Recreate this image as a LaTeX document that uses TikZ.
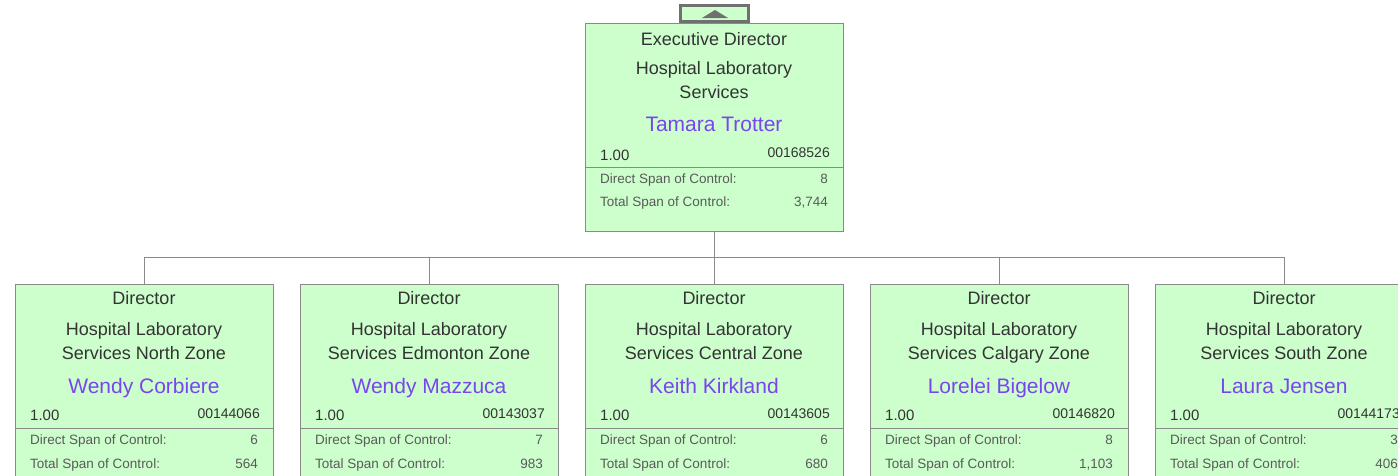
\documentclass[tikz,border=0pt]{standalone}
\usepackage{fontspec}
\setmainfont{Liberation Sans}
\usetikzlibrary{positioning}
\definecolor{boxgreen}{HTML}{CCFFCC}
\definecolor{boxgray}{HTML}{8A8A8A}
\definecolor{tabgray}{HTML}{707070}
\definecolor{textdark}{HTML}{333333}
\definecolor{textsoft}{HTML}{5A5A5A}
\definecolor{namepurple}{HTML}{7A45F0}
\tikzset{
    orgbox/.style={draw=boxgray, fill=boxgreen, line width=0.9pt, minimum width=258pt, anchor=north west, inner sep=0pt},
    tabbox/.style={draw=tabgray, fill=boxgreen, line width=3pt, minimum width=68pt, minimum height=16pt, inner sep=0pt},
    titletext/.style={anchor=base, inner sep=0pt, text=textdark, font=\fontsize{18}{21}\selectfont},
    nametext/.style={anchor=base, inner sep=0pt, text=namepurple, font=\fontsize{21}{24}\selectfont},
    ftetext/.style={anchor=base west, inner sep=0pt, text=textdark, font=\fontsize{15}{18}\selectfont},
    postext/.style={anchor=base east, inner sep=0pt, text=textdark, font=\fontsize{14}{17}\selectfont},
    spanlabel/.style={anchor=base west, inner sep=0pt, text=textsoft, font=\fontsize{13.5}{16}\selectfont},
    spanvalue/.style={anchor=base east, inner sep=0pt, text=textsoft, font=\fontsize{13.5}{16}\selectfont},
    sepline/.style={draw=boxgray, line width=0.9pt},
    link/.style={draw=boxgray, line width=0.9pt},
}
\begin{document}
\begin{tikzpicture}[x=1pt,y=-1pt]
	\clip (0,0) rectangle (1398,475);
	\fill[white] (0,0) rectangle (1398,475);
%
	% executive director
	\node[tabbox] (uptab) at (714.5,13.5) {};
	\fill[tabgray] (702,18) -- (715,10) -- (728,18) -- cycle;
	\node[orgbox, minimum height=208pt] (exec) at (585,23) {};
	\node[titletext] (exec-title) at (714,45) {Executive Director};
	\node[titletext] (exec-unit1) at (714,74) {Hospital Laboratory};
	\node[titletext] (exec-unit2) at (714,98) {Services};
	\node[nametext] (exec-name) at (714,131) {Tamara Trotter};
	\node[ftetext] (exec-fte) at (600,160) {1.00};
	\node[postext] (exec-pos) at (830,157) {00168526};
	\draw[sepline] (585,167) -- (843,167);
	\node[spanlabel] (exec-dl) at (600,183) {Direct Span of Control:};
	\node[spanvalue] (exec-dv) at (828,183) {8};
	\node[spanlabel] (exec-tl) at (600,206) {Total Span of Control:};
	\node[spanvalue] (exec-tv) at (828,206) {3,744};
%
	% north zone
	\node[orgbox, minimum height=220pt] (north) at (15,284) {};
	\node[titletext] (north-title) at (144,304) {Director};
	\node[titletext] (north-unit1) at (144,335) {Hospital Laboratory};
	\node[titletext] (north-unit2) at (144,359) {Services North Zone};
	\node[nametext] (north-name) at (144,393) {Wendy Corbiere};
	\node[ftetext] (north-fte) at (30,420) {1.00};
	\node[postext] (north-pos) at (260,418) {00144066};
	\draw[sepline] (15,428) -- (273,428);
	\node[spanlabel] (north-dl) at (30,444) {Direct Span of Control:};
	\node[spanvalue] (north-dv) at (258,444) {6};
	\node[spanlabel] (north-tl) at (30,468) {Total Span of Control:};
	\node[spanvalue] (north-tv) at (258,468) {564};
%
	% edmonton zone
	\node[orgbox, minimum height=220pt] (edmonton) at (300,284) {};
	\node[titletext] (edmonton-title) at (429,304) {Director};
	\node[titletext] (edmonton-unit1) at (429,335) {Hospital Laboratory};
	\node[titletext] (edmonton-unit2) at (429,359) {Services Edmonton Zone};
	\node[nametext] (edmonton-name) at (429,393) {Wendy Mazzuca};
	\node[ftetext] (edmonton-fte) at (315,420) {1.00};
	\node[postext] (edmonton-pos) at (545,418) {00143037};
	\draw[sepline] (300,428) -- (558,428);
	\node[spanlabel] (edmonton-dl) at (315,444) {Direct Span of Control:};
	\node[spanvalue] (edmonton-dv) at (543,444) {7};
	\node[spanlabel] (edmonton-tl) at (315,468) {Total Span of Control:};
	\node[spanvalue] (edmonton-tv) at (543,468) {983};
%
	% central zone
	\node[orgbox, minimum height=220pt] (central) at (585,284) {};
	\node[titletext] (central-title) at (714,304) {Director};
	\node[titletext] (central-unit1) at (714,335) {Hospital Laboratory};
	\node[titletext] (central-unit2) at (714,359) {Services Central Zone};
	\node[nametext] (central-name) at (714,393) {Keith Kirkland};
	\node[ftetext] (central-fte) at (600,420) {1.00};
	\node[postext] (central-pos) at (830,418) {00143605};
	\draw[sepline] (585,428) -- (843,428);
	\node[spanlabel] (central-dl) at (600,444) {Direct Span of Control:};
	\node[spanvalue] (central-dv) at (828,444) {6};
	\node[spanlabel] (central-tl) at (600,468) {Total Span of Control:};
	\node[spanvalue] (central-tv) at (828,468) {680};
%
	% calgary zone
	\node[orgbox, minimum height=220pt] (calgary) at (870,284) {};
	\node[titletext] (calgary-title) at (999,304) {Director};
	\node[titletext] (calgary-unit1) at (999,335) {Hospital Laboratory};
	\node[titletext] (calgary-unit2) at (999,359) {Services Calgary Zone};
	\node[nametext] (calgary-name) at (999,393) {Lorelei Bigelow};
	\node[ftetext] (calgary-fte) at (885,420) {1.00};
	\node[postext] (calgary-pos) at (1115,418) {00146820};
	\draw[sepline] (870,428) -- (1128,428);
	\node[spanlabel] (calgary-dl) at (885,444) {Direct Span of Control:};
	\node[spanvalue] (calgary-dv) at (1113,444) {8};
	\node[spanlabel] (calgary-tl) at (885,468) {Total Span of Control:};
	\node[spanvalue] (calgary-tv) at (1113,468) {1,103};
%
	% south zone
	\node[orgbox, minimum height=220pt] (south) at (1155,284) {};
	\node[titletext] (south-title) at (1284,304) {Director};
	\node[titletext] (south-unit1) at (1284,335) {Hospital Laboratory};
	\node[titletext] (south-unit2) at (1284,359) {Services South Zone};
	\node[nametext] (south-name) at (1284,393) {Laura Jensen};
	\node[ftetext] (south-fte) at (1170,420) {1.00};
	\node[postext] (south-pos) at (1400,418) {00144173};
	\draw[sepline] (1155,428) -- (1413,428);
	\node[spanlabel] (south-dl) at (1170,444) {Direct Span of Control:};
	\node[spanvalue] (south-dv) at (1398,444) {3};
	\node[spanlabel] (south-tl) at (1170,468) {Total Span of Control:};
	\node[spanvalue] (south-tv) at (1398,468) {406};
%
	% reporting lines
	\coordinate (bus) at (714,257);
	\draw[link] (exec.south) -- (exec.south |- bus);
	\draw[link] (north.north) -- (north.north |- bus) -- (south.north |- bus) -- (south.north);
	\draw[link] (edmonton.north) -- (edmonton.north |- bus);
	\draw[link] (central.north) -- (central.north |- bus);
	\draw[link] (calgary.north) -- (calgary.north |- bus);
\end{tikzpicture}
\end{document}
